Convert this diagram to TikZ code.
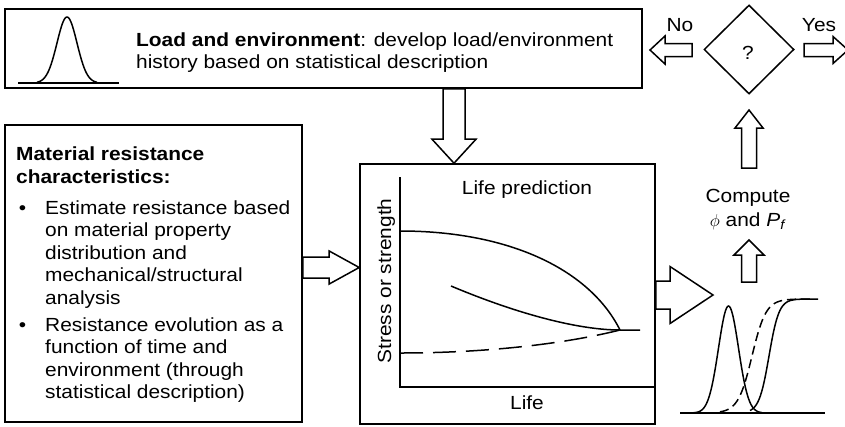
\documentclass[tikz,border=0pt]{standalone}
\usepackage{fontspec}
\setmainfont{Liberation Sans}[FakeStretch=1.1]
\usetikzlibrary{shapes.geometric,calc}

% Hollow horizontal block arrow: tail, tip, shaft half-height, head half-height, head length (signed)
\newcommand\hblock[5]{%
  \draw[blk] ($(#1)+(0,{-(#3)})$) -- ($(#2)+({-(#5)},{-(#3)})$) -- ($(#2)+({-(#5)},{-(#4)})$)
    -- (#2) -- ($(#2)+({-(#5)},#4)$) -- ($(#2)+({-(#5)},#3)$) -- ($(#1)+(0,#3)$) -- cycle;}
% Hollow vertical block arrow: tail, tip, shaft half-width, head half-width, head length (signed, + = down)
\newcommand\vblock[5]{%
  \draw[blk] ($(#1)+({-(#3)},0)$) -- ($(#2)+({-(#3)},{-(#5)})$) -- ($(#2)+({-(#4)},{-(#5)})$)
    -- (#2) -- ($(#2)+(#4,{-(#5)})$) -- ($(#2)+(#3,{-(#5)})$) -- ($(#1)+(#3,0)$) -- cycle;}

\begin{document}
\begin{tikzpicture}[x=1pt,y=-1pt,
  frame/.style={draw, line width=1.6pt, inner sep=0pt},
  blk/.style={draw, line width=1.5pt, line join=miter},
  curve/.style={line width=1.5pt},
  lbl/.style={font=\fontsize{19}{23}\selectfont, inner sep=0pt},
]
\useasboundingbox (0,0) rectangle (845,426);

% ---- boxes ----
\node[frame, minimum width=637pt, minimum height=79pt] (load) at (323.5,48.5) {};
\node[frame, minimum width=297pt, minimum height=297pt] (mat) at (153.5,273.5) {};
\node[frame, minimum width=295pt, minimum height=260pt] (life) at (507.5,294) {};
\node[draw, diamond, line width=1.5pt, minimum width=90pt, minimum height=89pt, inner sep=0pt] (dec) at (749,49.5) {};
\node[lbl, anchor=base] (q) at (748,59) {?};

% ---- load box contents ----
\draw[curve] (18,83) -- (119,83);
\draw[curve] plot[domain=37:97, samples=70, smooth] (\x, {83-66*exp(-0.5*((\x-67)/10)^2)});
\node[lbl, anchor=base west] (ld1) at (136,46.7) {\textbf{Load and environment}: develop load/environment};
\node[lbl, anchor=base west] (ld2) at (136,68.5) {history based on statistical description};

% ---- material box contents ----
\node[lbl, anchor=base west] (m1) at (16,160) {\textbf{Material resistance}};
\node[lbl, anchor=base west] (m2) at (16,183) {\textbf{characteristics:}};
\node[lbl, anchor=base] (b1) at (22.5,214) {•};
\node[lbl, anchor=base west] (m3) at (45,214) {Estimate resistance based};
\node[lbl, anchor=base west] (m4) at (45,236.5) {on material property};
\node[lbl, anchor=base west] (m5) at (45,259) {distribution and};
\node[lbl, anchor=base west] (m6) at (45,281.5) {mechanical/structural};
\node[lbl, anchor=base west] (m7) at (45,304) {analysis};
\node[lbl, anchor=base] (b2) at (22.5,331) {•};
\node[lbl, anchor=base west] (m8) at (45,331) {Resistance evolution as a};
\node[lbl, anchor=base west] (m9) at (45,353.5) {function of time and};
\node[lbl, anchor=base west] (m10) at (45,376) {environment (through};
\node[lbl, anchor=base west] (m11) at (45,398.5) {statistical description)};

% ---- life prediction chart ----
\coordinate (org) at (400,387);
\draw[curve] (400,177) -- (org) -- (life.east |- org);
\node[lbl, anchor=base] (lp) at (527,194) {Life prediction};
\node[lbl, anchor=base] (lf) at (527,409) {Life};
\node[lbl, anchor=base, rotate=90] (ss) at (391,281) {Stress or strength};
\draw[curve] (400,231) .. controls (510,231) and (590,270) .. (620,330);
\draw[curve] (451,286) .. controls (520,315) and (580,330) .. (620,330) -- (640,330);
\draw[curve, dash pattern=on 23pt off 10pt] (400,353) .. controls (480,353) and (560,345) .. (620,330);

% ---- distributions ----
\draw[curve] (680,413) -- (825,413);
\draw[curve] plot[domain=692:762, samples=70, smooth] (\x, {413-107*exp(-0.5*((\x-728.5)/10)^2)});
\draw[curve] plot[domain=750:818, samples=60, smooth] (\x, {413-114/(1+exp(-(\x-769)/5))});
\draw[curve, dash pattern=on 9pt off 5pt] plot[domain=720:812, samples=60, smooth] (\x, {413-114/(1+exp(-(\x-752)/7))});

% ---- compute label ----
\node[lbl, anchor=base] (c1) at (748,202) {Compute};
\node[lbl, anchor=base] (c2) at (748,226) {$\phi$ and \textit{P}\textsubscript{\textit{f}}};

% ---- block arrows ----
\coordinate (aL1) at (mat.east |- 0,267.5);
\coordinate (aL2) at (life.west |- 0,267.5);
\hblock{aL1}{aL2}{10.5}{16.5}{30}

\coordinate (aD1) at (load.south -| 454,0);
\coordinate (aD2) at (life.north -| 454,0);
\vblock{aD1}{aD2}{11}{22}{24}

\coordinate (aR1) at (life.east |- 0,295);
\coordinate (aR2) at (713,295);
\hblock{aR1}{aR2}{14}{28.5}{43}

\coordinate (aU1) at (749,282);
\coordinate (aU2) at (749,240);
\vblock{aU1}{aU2}{7.5}{15}{-15}

\coordinate (aV1) at (749,168);
\coordinate (aV2) at (749,110);
\vblock{aV1}{aV2}{7.5}{14}{-18}

\coordinate (aN1) at (692,50);
\coordinate (aN2) at (650,50);
\hblock{aN1}{aN2}{6.5}{14}{-15}
\node[lbl, anchor=base] (no) at (680,31) {No};

\coordinate (aY1) at (804,50);
\coordinate (aY2) at (848,50);
\hblock{aY1}{aY2}{6.5}{13.5}{15}
\node[lbl, anchor=base] (yes) at (819,31) {Yes};
\end{tikzpicture}
\end{document}
